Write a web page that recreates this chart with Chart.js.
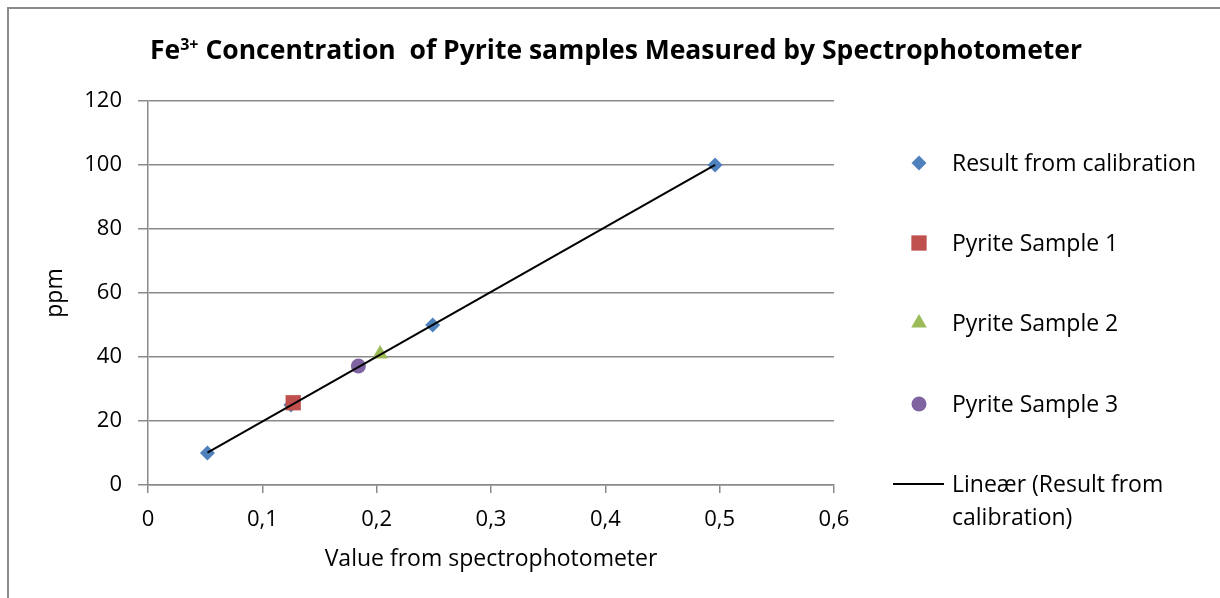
<!DOCTYPE html>
<html>
<head>
<meta charset="utf-8">
<title>Fe3+ Concentration of Pyrite samples</title>
<script src="https://cdn.jsdelivr.net/npm/chart.js@4.4.1/dist/chart.umd.min.js"></script>
<style>
  html, body { margin: 0; padding: 0; background: #fff; overflow: hidden; }
  #wrap { position: relative; width: 1220px; height: 598px; }
</style>
</head>
<body>
<div id="wrap"><canvas id="myChart"></canvas></div>
<script>
// Calibration standards: spectrophotometer reading vs. known ppm
const calibAbs = [0.052, 0.125, 0.249, 0.496];
const calibPpm = [10, 25, 50, 100];

// Pyrite samples placed on the calibration line
const sample1Abs = [0.127];
const sample1Ppm = [25.7];
const sample2Abs = [0.203];
const sample2Ppm = [40.9];
const sample3Abs = [0.184];
const sample3Ppm = [37.2];

// Axis ticks
const xTicks = [0, 0.1, 0.2, 0.3, 0.4, 0.5, 0.6];
const yTicks = [0, 20, 40, 60, 80, 100, 120];

const FONT = 'Open Sans';
const GRID = '#8a8a8a';

// Least squares line through the calibration points (Excel "Lineær" trendline)
function linearFit(xs, ys) {
    const n = xs.length;
    const mx = xs.reduce((a, b) => a + b, 0) / n;
    const my = ys.reduce((a, b) => a + b, 0) / n;
    let sxy = 0, sxx = 0;
    for (let i = 0; i < n; i++) {
        sxy += (xs[i] - mx) * (ys[i] - my);
        sxx += (xs[i] - mx) * (xs[i] - mx);
    }
    const slope = sxy / sxx;
    return { slope: slope, intercept: my - slope * mx };
}

const fit = linearFit(calibAbs, calibPpm);
const trendX = [Math.min(...calibAbs), Math.max(...calibAbs)];

const toPoints = (xs, ys) => xs.map((x, i) => ({ x: x, y: ys[i] }));

// Title with superscript charge, drawn above the plot
const titlePlugin = {
    id: 'chartTitle',
    afterDraw(chart) {
        const ctx = chart.ctx;
        const big = 'bold 26.5px "' + FONT + '"';
        const small = 'bold 16px "' + FONT + '"';
        const parts = [
            ['Fe', big, 0],
            ['3+', small, -9],
            [' Concentration  of Pyrite samples Measured by Spectrophotometer', big, 0]
        ];
        ctx.save();
        let total = 0;
        parts.forEach(p => { ctx.font = p[1]; total += ctx.measureText(p[0]).width; });
        let x = 616 - total / 2;
        ctx.fillStyle = '#000';
        ctx.textBaseline = 'alphabetic';
        parts.forEach(p => {
            ctx.font = p[1];
            ctx.fillText(p[0], x, 59 + p[2]);
            x += ctx.measureText(p[0]).width;
        });
        ctx.restore();
    }
};

// Frame line and the legend to the right of the plot
const legendPlugin = {
    id: 'sideLegend',
    beforeDraw(chart) {
        const ctx = chart.ctx;
        ctx.save();
        ctx.strokeStyle = GRID;
        ctx.lineWidth = 2;
        ctx.beginPath();
        ctx.moveTo(8, chart.height);
        ctx.lineTo(8, 8);
        ctx.lineTo(chart.width, 8);
        ctx.stroke();
        ctx.restore();
    },
    afterDraw(chart) {
        const ctx = chart.ctx;
        const markX = 919, textX = 952;
        const rowY = [163, 243, 323, 404, 484];
        ctx.save();
        ctx.font = '23px "' + FONT + '"';
        ctx.textBaseline = 'middle';
        chart.data.datasets.forEach((ds, i) => {
            const y = rowY[i];
            if (ds.showLine) {
                ctx.strokeStyle = ds.borderColor;
                ctx.lineWidth = ds.borderWidth;
                ctx.beginPath();
                ctx.moveTo(893, y);
                ctx.lineTo(944, y);
                ctx.stroke();
            } else {
                ctx.fillStyle = ds.backgroundColor;
                Chart.helpers.drawPoint(ctx, {
                    pointStyle: ds.pointStyle,
                    radius: ds.pointRadius,
                    rotation: 0,
                    borderWidth: 0
                }, markX, y);
            }
            ctx.fillStyle = '#000';
            const lines = [].concat(ds.legendText);
            lines.forEach((t, j) => ctx.fillText(t, textX, y + 1 + j * 33));
        });
        ctx.restore();
    }
};

const tickFont = { family: FONT, size: 22 };
const titleFont = { family: FONT, size: 23 };

new Chart(document.getElementById('myChart'), {
    type: 'scatter',
    data: {
        datasets: [
            {
                label: 'Result from calibration',
                legendText: 'Result from calibration',
                data: toPoints(calibAbs, calibPpm),
                pointStyle: 'rectRot',
                pointRadius: 7.5,
                backgroundColor: '#4f81bd',
                borderWidth: 0,
                order: 4
            },
            {
                label: 'Pyrite Sample 1',
                legendText: 'Pyrite Sample 1',
                data: toPoints(sample1Abs, sample1Ppm),
                pointStyle: 'rect',
                pointRadius: 10.8,
                backgroundColor: '#c0504d',
                borderWidth: 0,
                order: 1
            },
            {
                label: 'Pyrite Sample 2',
                legendText: 'Pyrite Sample 2',
                data: toPoints(sample2Abs, sample2Ppm),
                pointStyle: 'triangle',
                pointRadius: 9,
                backgroundColor: '#9bbb59',
                borderWidth: 0,
                order: 2
            },
            {
                label: 'Pyrite Sample 3',
                legendText: 'Pyrite Sample 3',
                data: toPoints(sample3Abs, sample3Ppm),
                pointStyle: 'circle',
                pointRadius: 7.5,
                backgroundColor: '#8064a2',
                borderWidth: 0,
                order: 3
            },
            {
                label: 'Lineær (Result from calibration)',
                legendText: ['Lineær (Result from', 'calibration)'],
                data: trendX.map(x => ({ x: x, y: fit.slope * x + fit.intercept })),
                showLine: true,
                pointRadius: 0,
                borderColor: '#000',
                borderWidth: 2,
                order: 0
            }
        ]
    },
    options: {
        responsive: true,
        maintainAspectRatio: false,
        animation: false,
        layout: { padding: { top: 101, right: 386, bottom: 0, left: 0 } },
        plugins: {
            legend: { display: false },
            tooltip: { enabled: false }
        },
        scales: {
            x: {
                type: 'linear',
                min: 0,
                max: 0.6,
                afterBuildTicks: s => { s.ticks = xTicks.map(v => ({ value: v })); },
                afterFit: s => { s.height = 113; },
                grid: { drawOnChartArea: false, color: GRID, lineWidth: 1.5, tickLength: 8 },
                border: { color: GRID, width: 1.5 },
                ticks: {
                    color: '#000',
                    font: tickFont,
                    padding: 14,
                    maxRotation: 0,
                    autoSkip: false,
                    callback: v => String(Math.round(v * 10) / 10).replace('.', ',')
                },
                title: {
                    display: true,
                    text: 'Value from spectrophotometer',
                    color: '#000',
                    font: titleFont,
                    padding: { top: 0, bottom: 25 }
                }
            },
            y: {
                min: 0,
                max: 120,
                afterBuildTicks: s => { s.ticks = yTicks.map(v => ({ value: v })); },
                afterFit: s => { s.width = 148; },
                grid: { color: GRID, lineWidth: 1.5, tickLength: 10 },
                border: { color: GRID, width: 1.5 },
                ticks: { color: '#000', font: tickFont, padding: 16 },
                title: {
                    display: true,
                    text: 'ppm',
                    color: '#000',
                    font: titleFont,
                    padding: { top: 42, bottom: 0 }
                }
            }
        }
    },
    plugins: [titlePlugin, legendPlugin]
});
</script>
</body>
</html>
